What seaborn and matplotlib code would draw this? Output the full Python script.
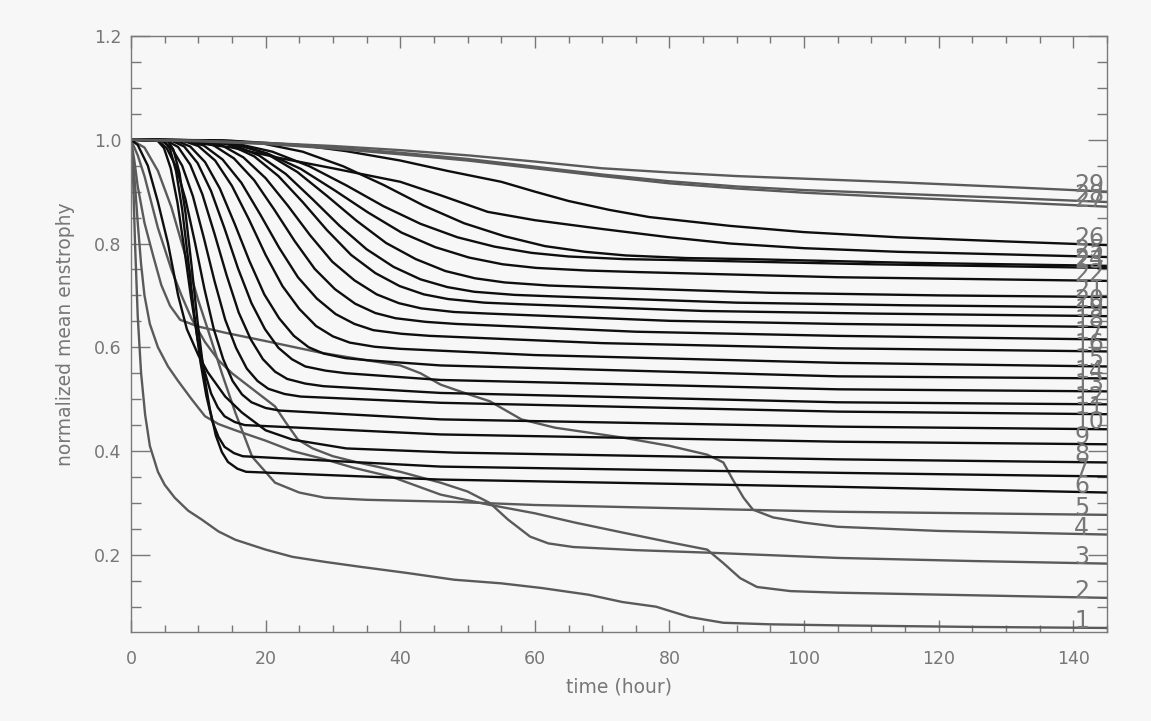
import matplotlib
matplotlib.use("Agg")
import matplotlib.pyplot as plt
from matplotlib.ticker import MultipleLocator
import pandas as pd
import seaborn as sns

# (hour, normalized mean enstrophy) pairs, one list per run
curve_01 = [(0, 1.0), (0.3, 0.93), (0.6, 0.80), (1.0, 0.66), (1.5, 0.55), (2.1, 0.47),
            (2.8, 0.41), (4, 0.36), (5, 0.335), (6.5, 0.31), (8.5, 0.285), (10.5, 0.268),
            (13, 0.245), (15.5, 0.229), (20, 0.21), (24, 0.196), (29, 0.186), (34, 0.177),
            (41, 0.165), (48, 0.152), (55, 0.145), (61, 0.136), (68, 0.123), (73, 0.109),
            (78, 0.100), (83, 0.080), (88, 0.069), (95, 0.066), (105, 0.064), (125, 0.061),
            (145, 0.059)]
curve_02 = [(0, 1.0), (0.5, 0.93), (1, 0.84), (1.5, 0.76), (2, 0.70), (2.8, 0.645), (4, 0.60),
            (5.5, 0.563), (7, 0.535), (9, 0.50), (11, 0.467), (13, 0.452), (15.5, 0.44),
            (20, 0.42), (24, 0.40), (28.8, 0.384), (33, 0.368), (38.8, 0.35), (46, 0.316),
            (53, 0.297), (60, 0.28), (66, 0.262), (73, 0.243), (80.5, 0.223), (85.6, 0.21),
            (88, 0.184), (90.5, 0.155), (93, 0.138), (98, 0.13), (105, 0.127), (145, 0.117)]
curve_03 = [(0, 1.0), (1, 0.97), (2, 0.93), (3, 0.88), (4, 0.83), (5, 0.79), (6, 0.75),
            (7.5, 0.70), (9, 0.655), (11, 0.61), (13, 0.575), (15, 0.55), (18, 0.52),
            (21.4, 0.486), (23, 0.455), (24.8, 0.422), (27, 0.405), (30, 0.39), (33.7, 0.378),
            (40, 0.36), (46, 0.339), (50, 0.322), (53.3, 0.30), (56, 0.268), (59.3, 0.235),
            (62, 0.222), (65.7, 0.215), (75, 0.209), (86, 0.204), (105, 0.194), (125, 0.188),
            (145, 0.183)]
curve_04 = [(0, 1.0), (0.5, 0.96), (1, 0.91), (2, 0.84), (3.3, 0.776), (4.5, 0.72), (5.8, 0.68),
            (7.3, 0.653), (10, 0.64), (14, 0.628), (20, 0.612), (28, 0.59), (35, 0.575),
            (40, 0.565), (43, 0.55), (46, 0.528), (50, 0.51), (53.3, 0.496), (58, 0.461),
            (63, 0.445), (73, 0.426), (80, 0.41), (85.6, 0.393), (88, 0.378), (89.4, 0.345),
            (91, 0.31), (92.4, 0.287), (95.4, 0.272), (100, 0.262), (105, 0.254), (120, 0.246),
            (145, 0.239)]
curve_05 = [(0, 1.0), (2, 0.985), (4, 0.94), (6, 0.87), (8, 0.78), (10, 0.69), (11.4, 0.635),
            (13.5, 0.55), (15.5, 0.474), (18, 0.389), (21.4, 0.339), (25, 0.32), (28.8, 0.31),
            (35, 0.306), (48, 0.302), (60, 0.296), (80, 0.29), (105, 0.283), (145, 0.277)]
curve_06 = [(0, 1.0), (5.4, 0.999), (6.3, 0.981), (7.2, 0.936), (8.1, 0.859), (9.0, 0.757),
            (9.9, 0.648), (10.8, 0.552), (11.7, 0.482), (12.6, 0.430), (13.5, 0.398),
            (14.4, 0.379), (15.8, 0.366), (17.1, 0.36), (46, 0.345), (105, 0.331), (145, 0.320)]
curve_07 = [(0, 1.0), (4.9, 0.999), (5.8, 0.982), (6.7, 0.939), (7.6, 0.866), (8.5, 0.768),
            (9.4, 0.664), (10.3, 0.573), (11.2, 0.506), (12.1, 0.457), (13.0, 0.427),
            (13.9, 0.408), (15.3, 0.396), (16.6, 0.39), (46, 0.370), (105, 0.358), (145, 0.351)]
curve_08 = [(0, 1.0), (1, 0.99), (2.5, 0.95), (4, 0.88), (5.5, 0.80), (7, 0.70), (8.3, 0.635),
            (10, 0.585), (11.4, 0.552), (14, 0.505), (16.5, 0.474), (20, 0.44), (24, 0.422),
            (32, 0.405), (48, 0.397), (105, 0.384), (145, 0.378)]
curve_09 = [(0, 1.0), (3.9, 0.999), (4.9, 0.984), (5.9, 0.945), (6.9, 0.879), (7.9, 0.791),
            (8.9, 0.698), (9.9, 0.615), (10.9, 0.555), (11.9, 0.511), (12.9, 0.484),
            (13.9, 0.467), (15.4, 0.456), (16.9, 0.45), (46, 0.432), (105, 0.418), (145, 0.413)]
curve_10 = [(0, 1.0), (3.9, 0.999), (5.3, 0.984), (6.7, 0.948), (8.1, 0.885), (9.5, 0.802),
            (10.9, 0.713), (12.3, 0.635), (13.7, 0.577), (15.1, 0.535), (16.5, 0.509),
            (17.9, 0.494), (20.0, 0.483), (22.1, 0.478), (46, 0.461), (105, 0.447), (145, 0.442)]
curve_11 = [(0, 1.0), (4.4, 0.999), (6.0, 0.985), (7.6, 0.950), (9.2, 0.891), (10.8, 0.812),
            (12.4, 0.728), (14.0, 0.653), (15.6, 0.599), (17.2, 0.559), (18.8, 0.535),
            (20.4, 0.520), (22.8, 0.510), (25.2, 0.505), (46, 0.493), (105, 0.476), (145, 0.471)]
curve_12 = [(0, 1.0), (5.2, 0.999), (7.0, 0.986), (8.8, 0.952), (10.6, 0.895), (12.4, 0.819),
            (14.2, 0.739), (16.0, 0.667), (17.8, 0.615), (19.6, 0.577), (21.4, 0.553),
            (23.2, 0.539), (25.9, 0.530), (28.6, 0.525), (46, 0.512), (105, 0.494), (145, 0.490)]
curve_13 = [(0, 1.0), (5.9, 0.999), (7.9, 0.987), (9.9, 0.955), (11.9, 0.901), (13.9, 0.829),
            (15.9, 0.752), (17.9, 0.685), (19.9, 0.635), (21.9, 0.599), (23.9, 0.577),
            (25.9, 0.563), (28.9, 0.555), (31.9, 0.55), (46, 0.537), (105, 0.519), (145, 0.515)]
curve_14 = [(0, 1.0), (6.6, 0.999), (8.8, 0.987), (11.0, 0.957), (13.2, 0.906), (15.4, 0.838),
            (17.6, 0.766), (19.8, 0.702), (22.0, 0.656), (24.2, 0.622), (26.4, 0.600),
            (28.6, 0.588), (31.9, 0.579), (35.2, 0.575), (46, 0.565), (105, 0.544), (145, 0.540)]
curve_15 = [(0, 1.0), (7.5, 0.999), (10, 0.988), (12.5, 0.960), (15, 0.911), (17.5, 0.847),
            (20, 0.778), (22.5, 0.718), (25, 0.674), (27.5, 0.641), (30, 0.621), (32.5, 0.609),
            (36.2, 0.601), (40, 0.597), (60, 0.585), (105, 0.570), (145, 0.563)]
curve_16 = [(0, 1.0), (8, 0.999), (10.8, 0.989), (13.6, 0.962), (16.4, 0.917), (19.2, 0.856),
            (22, 0.792), (24.8, 0.735), (27.6, 0.694), (30.4, 0.664), (33.2, 0.645), (36, 0.633),
            (40.2, 0.626), (44.4, 0.622), (70, 0.608), (105, 0.598), (145, 0.592)]
curve_17 = [(0, 1.0), (9.3, 0.999), (12.3, 0.989), (15.3, 0.964), (18.3, 0.922), (21.3, 0.865),
            (24.3, 0.805), (27.3, 0.751), (30.3, 0.712), (33.3, 0.684), (36.3, 0.666),
            (39.3, 0.656), (43.8, 0.649), (48.3, 0.645), (75, 0.630), (105, 0.622), (145, 0.615)]
curve_18 = [(0, 1.0), (10.1, 0.999), (13.4, 0.990), (16.7, 0.966), (20.0, 0.926), (23.3, 0.873),
            (26.6, 0.816), (29.9, 0.765), (33.2, 0.729), (36.5, 0.702), (39.8, 0.685),
            (43.1, 0.675), (48.0, 0.668), (53.0, 0.665), (80, 0.651), (105, 0.645), (145, 0.639)]
curve_19 = [(0, 1.0), (11.1, 0.999), (14.7, 0.990), (18.3, 0.968), (21.9, 0.930), (25.5, 0.880),
            (29.1, 0.826), (32.7, 0.778), (36.3, 0.743), (39.9, 0.718), (43.5, 0.702),
            (47.1, 0.693), (52.5, 0.686), (57.9, 0.683), (85, 0.670), (110, 0.665), (145, 0.660)]
curve_20 = [(0, 1.0), (11, 0.999), (15, 0.991), (19, 0.970), (23, 0.934), (27, 0.885), (31, 0.834),
            (35, 0.789), (39, 0.755), (43, 0.731), (47, 0.716), (51, 0.707), (57, 0.701),
            (63, 0.698), (90, 0.686), (115, 0.681), (145, 0.677)]
curve_21 = [(0, 1.0), (11.5, 0.999), (15.9, 0.991), (20.3, 0.972), (24.7, 0.938), (29.1, 0.892),
            (33.5, 0.844), (37.9, 0.801), (42.3, 0.770), (46.7, 0.747), (51.1, 0.733),
            (55.5, 0.725), (62.1, 0.719), (68.7, 0.716), (95, 0.705), (120, 0.700), (145, 0.697)]
curve_22 = [(0, 1.0), (10.2, 0.999), (15.2, 0.992), (20.2, 0.974), (25.2, 0.944), (30.2, 0.903),
            (35.2, 0.860), (40.2, 0.821), (45.2, 0.793), (50.2, 0.773), (55.2, 0.760),
            (60.2, 0.753), (67.7, 0.748), (75.2, 0.745), (105, 0.735), (145, 0.728)]
curve_23 = [(0, 1.0), (10, 0.999), (15.5, 0.993), (21, 0.977), (26.5, 0.949), (32, 0.912),
            (37.5, 0.872), (43, 0.838), (48.5, 0.812), (54, 0.794), (59.5, 0.782), (65, 0.775),
            (73.2, 0.770), (81.5, 0.768), (110, 0.760), (145, 0.753)]
curve_24 = [(0, 1.0), (13.5, 0.999), (19.5, 0.993), (25.5, 0.977), (31.5, 0.949), (37.5, 0.913),
            (43.5, 0.873), (49.5, 0.839), (55.5, 0.814), (61.5, 0.795), (67.5, 0.784),
            (73.5, 0.777), (82.5, 0.772), (91.5, 0.770), (115, 0.763), (145, 0.757)]
curve_25 = [(0, 1.0), (8, 0.997), (15, 0.985), (22, 0.965), (30, 0.945), (35, 0.932), (40, 0.919),
            (46, 0.893), (53, 0.861), (60, 0.845), (70, 0.828), (80, 0.812), (89, 0.80),
            (100, 0.791), (114, 0.784), (130, 0.779), (145, 0.774)]
curve_26 = [(0, 1.0), (15, 0.998), (25, 0.99), (32, 0.978), (40, 0.96), (47, 0.94), (55, 0.919),
            (60, 0.90), (65, 0.882), (71, 0.865), (77, 0.851), (89, 0.834), (100, 0.822),
            (114, 0.812), (130, 0.804), (145, 0.797)]
curve_27 = [(0, 1.0), (10, 0.997), (20, 0.992), (30, 0.983), (40, 0.972), (50, 0.96), (60, 0.945),
            (70, 0.93), (80, 0.916), (90, 0.906), (100, 0.898), (114, 0.889), (130, 0.88),
            (145, 0.871)]
curve_28 = [(0, 1.0), (10, 0.998), (20, 0.993), (30, 0.985), (40, 0.975), (50, 0.963),
            (60, 0.948), (70, 0.933), (80, 0.92), (90, 0.91), (100, 0.903), (114, 0.896),
            (130, 0.888), (145, 0.880)]
curve_29 = [(0, 1.0), (10, 0.998), (20, 0.994), (30, 0.988), (40, 0.98), (50, 0.97), (60, 0.958),
            (70, 0.945), (80, 0.937), (90, 0.93), (100, 0.925), (114, 0.918), (130, 0.909),
            (145, 0.90)]

curves = [curve_01, curve_02, curve_03, curve_04, curve_05, curve_06, curve_07, curve_08,
          curve_09, curve_10, curve_11, curve_12, curve_13, curve_14, curve_15, curve_16,
          curve_17, curve_18, curve_19, curve_20, curve_21, curve_22, curve_23, curve_24,
          curve_25, curve_26, curve_27, curve_28, curve_29]
grey_runs = [1, 2, 3, 4, 5, 27, 28, 29]

x_ticks = [0, 20, 40, 60, 80, 100, 120, 140]
y_ticks = [0.2, 0.4, 0.6, 0.8, 1.0, 1.2]

TEXT_GREY = '#777777'
PAPER = '#f7f7f7'


def build_frame():
    rows = []
    for run, pts in enumerate(curves, start=1):
        for hour, value in pts:
            rows.append({'run': run, 'hour': hour, 'value': value})
    return pd.DataFrame(rows)


def main():
    sns.set_style('ticks')
    plt.rcParams['font.family'] = ['DejaVu Sans']

    df = build_frame()
    palette = {run: ('#5a5a5a' if run in grey_runs else '#0e0e0e')
               for run in range(1, len(curves) + 1)}

    fig = plt.figure(figsize=(11.51, 7.21), dpi=100, facecolor=PAPER)
    ax = fig.add_axes([131 / 1151, 1 - 632 / 721, 976 / 1151, 596 / 721])
    ax.set_facecolor(PAPER)

    sns.lineplot(data=df, x='hour', y='value', hue='run', palette=palette,
                 estimator=None, sort=False, legend=False, linewidth=1.7, ax=ax)

    # run numbers sit on the end of each curve, IDL style (they overlap in the original too)
    for run, pts in enumerate(curves, start=1):
        ax.text(140.1, pts[-1][1], str(run), ha='left', va='baseline',
                fontsize=17, color=TEXT_GREY, clip_on=False)

    ax.set_xlim(0, 145)
    ax.set_ylim(0.0512, 1.2)
    ax.set_xticks(x_ticks)
    ax.set_yticks(y_ticks)
    ax.set_xticklabels([str(t) for t in x_ticks])
    ax.set_yticklabels([f'{t:.1f}' for t in y_ticks])
    ax.xaxis.set_minor_locator(MultipleLocator(5))
    ax.yaxis.set_minor_locator(MultipleLocator(0.05))

    ax.tick_params(axis='both', which='both', direction='in', top=True, right=True,
                   colors=TEXT_GREY, labelsize=12.5, width=1.0)
    ax.tick_params(axis='x', which='major', length=8.5, pad=13)
    ax.tick_params(axis='x', which='minor', length=5)
    ax.tick_params(axis='y', which='major', length=14, pad=7)
    ax.tick_params(axis='y', which='minor', length=7)

    for spine in ax.spines.values():
        spine.set_color('#7a7a7a')
        spine.set_linewidth(1.0)

    ax.set_xlabel('time (hour)', fontsize=13.5, color=TEXT_GREY)
    ax.set_ylabel('normalized mean enstrophy', fontsize=13.5, color=TEXT_GREY)
    ax.xaxis.set_label_coords(0.5, -0.077)
    ax.yaxis.set_label_coords(-0.057, 0.5)

    fig.savefig('out.png', dpi=100, facecolor=PAPER)


if __name__ == '__main__':
    main()
